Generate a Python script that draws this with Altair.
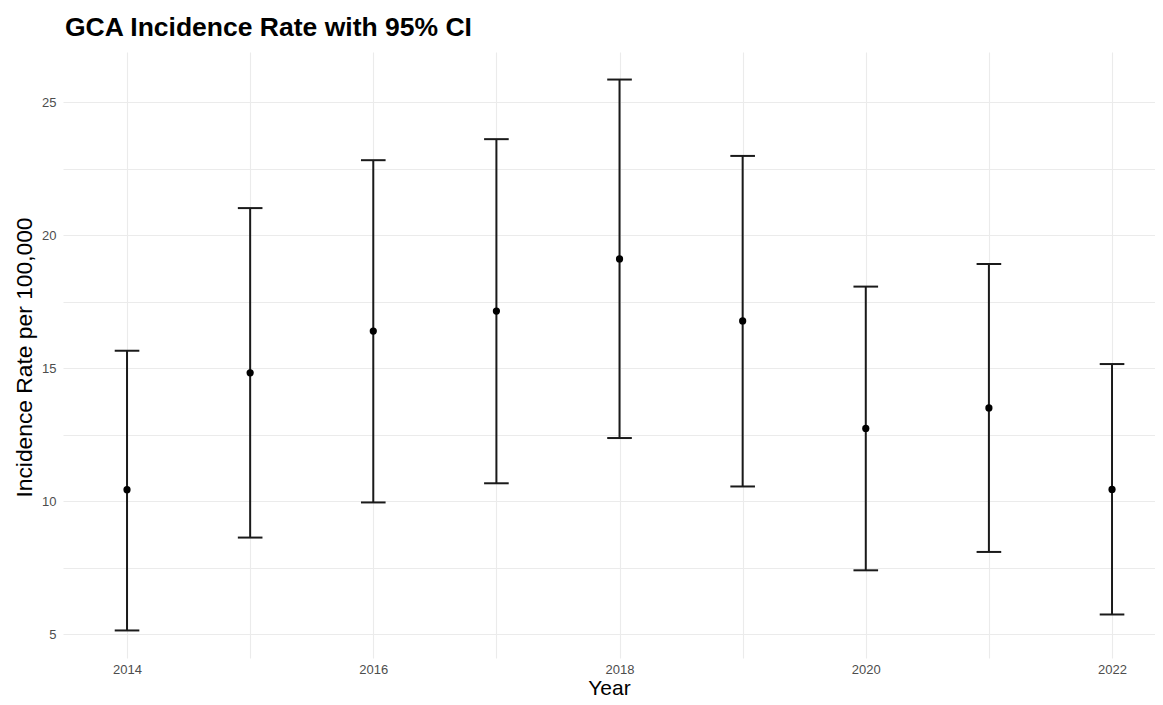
import altair as alt
import pandas as pd

years = [2014, 2015, 2016, 2017, 2018, 2019, 2020, 2021, 2022]
rate = [10.44, 14.83, 16.40, 17.15, 19.11, 16.78, 12.74, 13.51, 10.45]
lower = [5.15, 8.64, 9.96, 10.68, 12.38, 10.56, 7.41, 8.10, 5.75]
upper = [15.66, 21.02, 22.82, 23.61, 25.85, 22.98, 18.07, 18.92, 15.16]

x_ticks = [2014, 2015, 2016, 2017, 2018, 2019, 2020, 2021, 2022]
y_ticks = [5, 7.5, 10, 12.5, 15, 17.5, 20, 22.5, 25]

df = pd.DataFrame({"year": years, "rate": rate, "lower": lower, "upper": upper})

FONT = "Liberation Sans"
GRID = "#ebebeb"
INK = "#1a1a1a"

x_scale = alt.Scale(domain=[2013.48, 2022.349], nice=False, zero=False)
y_scale = alt.Scale(domain=[4.115, 26.885], nice=False, zero=False)

x_axis = alt.Axis(
    values=x_ticks, format="d",
    labelExpr="datum.value % 2 === 0 ? datum.label : ''",
    title="Year", titleFontSize=21, titleFontWeight="normal", titleColor="#000000",
    titleFont=FONT, titleY=36.5, titleBaseline="alphabetic",
    labelFont=FONT, labelFontSize=13, labelColor="#4d4d4d", labelPadding=5,
    domain=False, ticks=False, grid=True, gridColor=GRID, gridWidth=1.1,
)
y_axis = alt.Axis(
    values=y_ticks,
    labelExpr="datum.value % 5 === 0 ? datum.label : ''",
    title="Incidence Rate per 100,000", titleFontSize=22.8, titleFontWeight="normal",
    titleColor="#000000", titleFont=FONT, titleAngle=-90,
    titleX=-31.5, titleY=305, titleAlign="center", titleBaseline="alphabetic",
    labelFont=FONT, labelFontSize=13, labelColor="#4d4d4d", labelPadding=7,
    domain=False, ticks=False, grid=True, gridColor=GRID, gridWidth=1.1,
)

base = alt.Chart(df)

bars = base.mark_rule(color=INK, strokeWidth=2).encode(
    x=alt.X("year:Q", scale=x_scale, axis=x_axis),
    y=alt.Y("lower:Q", scale=y_scale, axis=y_axis),
    y2="upper:Q",
)

caps_lo = base.transform_calculate(
    xa="datum.year - 0.1", xb="datum.year + 0.1"
).mark_rule(color=INK, strokeWidth=2).encode(
    x=alt.X("xa:Q", scale=x_scale), x2="xb:Q",
    y=alt.Y("lower:Q", scale=y_scale),
)
caps_hi = base.transform_calculate(
    xa="datum.year - 0.1", xb="datum.year + 0.1"
).mark_rule(color=INK, strokeWidth=2).encode(
    x=alt.X("xa:Q", scale=x_scale), x2="xb:Q",
    y=alt.Y("upper:Q", scale=y_scale),
)

points = base.mark_circle(color="#000000", opacity=1, size=52).encode(
    x=alt.X("year:Q", scale=x_scale),
    y=alt.Y("rate:Q", scale=y_scale),
)

chart = alt.layer(bars, caps_lo, caps_hi, points).properties(
    width=1092,
    height=606,
    background="#ffffff",
    title=alt.TitleParams(
        "GCA Incidence Rate with 95% CI",
        anchor="start", frame="group", font=FONT, fontSize=26.5, fontWeight="bold",
        color="#000000", dx=2, dy=25.5, offset=15, baseline="alphabetic",
    ),
    padding={"left": 55, "top": 44, "right": 0, "bottom": 42},
    autosize=alt.AutoSizeParams(type="none"),
).configure_view(stroke="transparent", strokeWidth=0)

chart.save("out.html", embed_options={"renderer": "svg", "actions": False})
